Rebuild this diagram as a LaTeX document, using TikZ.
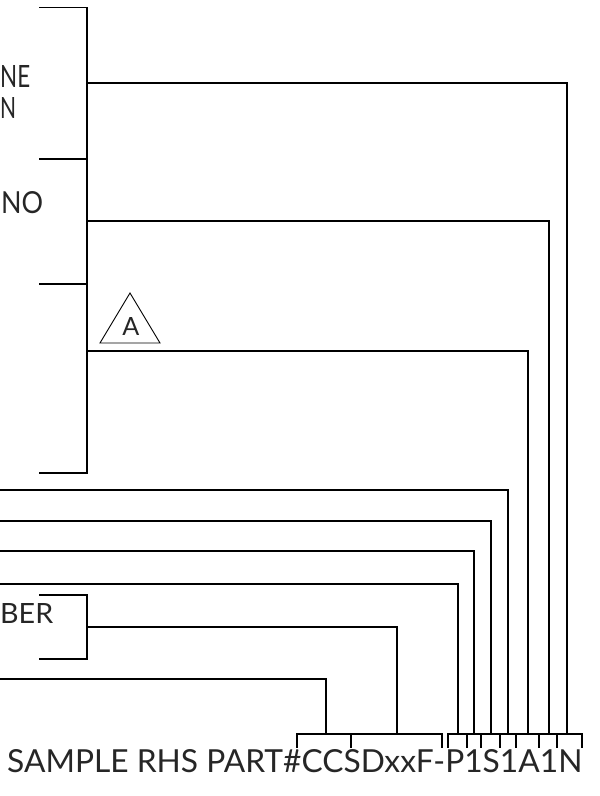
\documentclass[tikz,border=0pt]{standalone}
\usepackage{fontspec}
\setmainfont{Lato}
\begin{document}
\begin{tikzpicture}[x=1pt,y=-1pt,
  wire/.style={line width=1.2pt,black,line cap=rect},
  lbl/.style={inner sep=0pt,text=black!85,anchor=base west},
  code/.style={inner sep=0pt,text=black!85}]
\useasboundingbox (0,0) rectangle (600,796);
\clip (0,0) rectangle (600,796);
% left brackets (main)
\coordinate (b1t) at (40,7.5);
\coordinate (b1b) at (40,159);
\coordinate (b2b) at (40,284);
\coordinate (b3b) at (40,473);
\draw[wire] (b1t) -- (87,7.5) -- (87,473) -- (b3b);
\draw[wire] (b1b) -- (87,159);
\draw[wire] (b2b) -- (87,284);
% bracket BER
\coordinate (b4t) at (40,595);
\coordinate (b4b) at (40,659);
\draw[wire] (b4t) -- (87,595) -- (87,659) -- (b4b);
% fragments of texts
\node[lbl] (tNE) at (0,87) {\resizebox{30pt}{22pt}{NE}};
\node[lbl] (tN) at (0,118) {\resizebox{16pt}{21pt}{N}};
\node[lbl] (tNO) at (1,213) {\resizebox{42pt}{22pt}{NO}};
\node[lbl] (tBER) at (0,623) {\resizebox{53pt}{20pt}{BER}};
% triangle A
\coordinate (ta) at (130,293);
\coordinate (tl) at (100,343);
\coordinate (tr) at (160,343);
\draw[line width=0.9pt,line join=miter] (ta) -- (tl) -- (tr) -- cycle;
\node[inner sep=0pt,anchor=base,text=black!85] (tA) at (131,335) {\resizebox{!}{18pt}{A}};
% bottom code text
\node[code,anchor=base west] (code) at (7,772) {\resizebox{575pt}{23pt}{SAMPLE RHS PART\#CCSDxxF-P1S1A1N}};
% bottom brackets
\draw[wire] (297,747) -- (297,734) -- (442,734) -- (442,747);
\draw[wire] (351,734) -- (351,747);
\draw[wire] (448,747) -- (448,734) -- (582,734) -- (582,747);
\foreach \t in {467,481,500,516,539,557}{\draw[wire] (\t,734) -- (\t,747);}
% connector end coordinates
\coordinate (eCC) at (326,734);
\coordinate (eSD) at (397,734);
\coordinate (eP) at (458,734);
\coordinate (e1a) at (474,734);
\coordinate (eS) at (491,734);
\coordinate (e1b) at (508,734);
\coordinate (eA) at (528,734);
\coordinate (e1c) at (549,734);
\coordinate (eN) at (567,734);
% connectors
\draw[wire] (87,83) -| (eN);
\draw[wire] (87,221) -| (e1c);
\draw[wire] (87,351) -| (eA);
\draw[wire] (0,490) -| (e1b);
\draw[wire] (0,521) -| (eS);
\draw[wire] (0,551) -| (e1a);
\draw[wire] (0,584) -| (eP);
\draw[wire] (87,627) -| (eSD);
\draw[wire] (0,679) -| (eCC);
\end{tikzpicture}
\end{document}
